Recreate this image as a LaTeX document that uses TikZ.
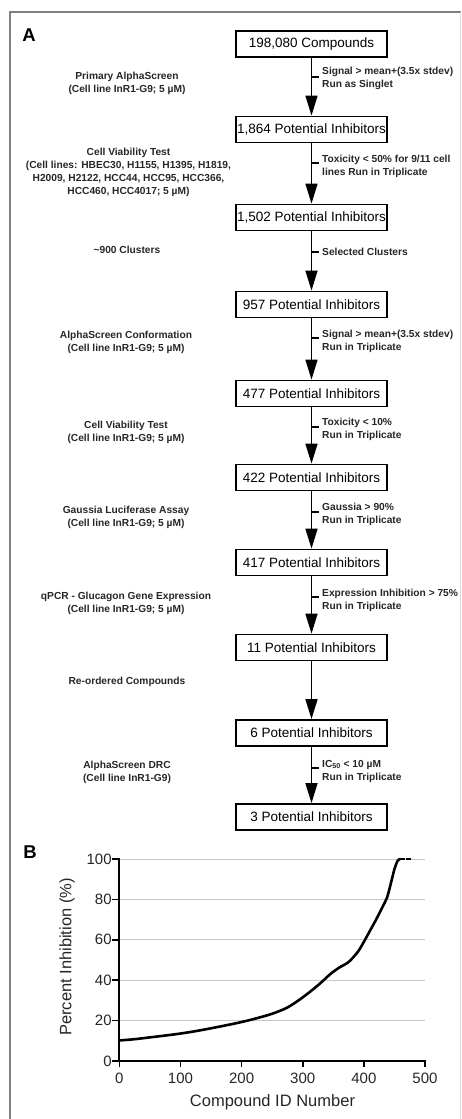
\documentclass[tikz,border=0pt]{standalone}
\usepackage{fontspec}
\setmainfont{Liberation Sans}
\usetikzlibrary{arrows.meta}
\begin{document}
\begin{tikzpicture}[x=1pt,y=-1pt,
  box/.style={draw, line width=1.8pt, minimum width=151pt, minimum height=26pt, inner sep=0pt, font=\fontsize{13.5}{16}\selectfont},
  flow/.style={line width=1.6pt, -{Triangle[width=12pt,length=20pt]}},
  lab/.style={font=\bfseries\fontsize{10.2}{13}\selectfont, align=center, inner sep=0pt, text=black!85},
  crit/.style={font=\bfseries\fontsize{10.2}{13}\selectfont, align=left, anchor=west, inner sep=0pt, text=black!85},
  crittick/.style={line width=1.3pt},
  panel/.style={font=\bfseries\fontsize{18.5}{20}\selectfont, inner sep=0pt},
  gridline/.style={draw=black!22, line width=0.9pt},
  axisline/.style={line width=1.9pt, line cap=rect},
  ticklab/.style={font=\fontsize{15}{17}\selectfont, inner sep=0pt, text=black!85},
  axtitle/.style={font=\fontsize{16.5}{18}\selectfont, inner sep=0pt, text=black!85},
  framel/.style={draw=black!50, line width=1.5pt}
]
\useasboundingbox (0,0) rectangle (461,1119);
% frame
\draw[framel] (10,1119) -- (10,12) -- (461,12);
\draw[draw=black!15, line width=1pt] (460,12) -- (460,1119);

\node[panel] (pA) at (29,35) {A};
\node[panel] (pB) at (30,852) {B};

% boxes
\node[box] (b1) at (311.5,44) {198,080 Compounds};
\node[box] (b2) at (311.5,129.5) {1,864 Potential Inhibitors};
\node[box] (b3) at (311.5,217.5) {1,502 Potential Inhibitors};
\node[box] (b4) at (311.5,304.5) {957 Potential Inhibitors};
\node[box] (b5) at (311.5,393.5) {477 Potential Inhibitors};
\node[box] (b6) at (311.5,477.5) {422 Potential Inhibitors};
\node[box] (b7) at (311.5,562.5) {417 Potential Inhibitors};
\node[box] (b8) at (311.5,647.5) {11 Potential Inhibitors};
\node[box] (b9) at (311.5,733) {6 Potential Inhibitors};
\node[box] (b10) at (311.5,817) {3 Potential Inhibitors};

\draw[flow] (b1) -- (b2);
\draw[flow] (b2) -- (b3);
\draw[flow] (b3) -- (b4);
\draw[flow] (b4) -- (b5);
\draw[flow] (b5) -- (b6);
\draw[flow] (b6) -- (b7);
\draw[flow] (b7) -- (b8);
\draw[flow] (b8) -- (b9);
\draw[flow] (b9) -- (b10);

% ticks on arrows
\foreach \i/\y in {1/77,2/163,3/252,4/338,5/427,6/512,7/597,9/768}{
  \coordinate (ts\i) at (311.5,\y);
  \coordinate (te\i) at (318.5,\y);
  \draw[crittick] (ts\i) -- (te\i);
}

% criteria labels
\node[crit] (c1) at (322,78.5) {Signal > mean+(3.5x stdev)\\Run as Singlet};
\node[crit] (c2) at (322,166) {Toxicity < 50\% for 9/11 cell\\lines Run in Triplicate};
\node[crit] (c3) at (322,252) {Selected Clusters};
\node[crit] (c4) at (322,341.5) {Signal > mean+(3.5x stdev)\\Run in Triplicate};
\node[crit] (c5) at (322,429.5) {Toxicity < 10\%\\Run in Triplicate};
\node[crit] (c6) at (322,514.5) {Gaussia > 90\%\\Run in Triplicate};
\node[crit] (c7) at (322,600) {Expression Inhibition > 75\%\\Run in Triplicate};
\node[crit] (c9) at (322,771) {IC\textsubscript{50} < 10 µM\\Run in Triplicate};

% step labels
\node[lab] (s1) at (127,83.5) {Primary AlphaScreen\\(Cell line InR1-G9; 5 µM)};
\node[lab] (s2) at (128.5,172.7) {Cell Viability Test\\(Cell lines: HBEC30, H1155, H1395, H1819,\\H2009, H2122, HCC44, HCC95, HCC366,\\HCC460, HCC4017; 5 µM)};
\node[lab] (s3) at (127,250) {\textasciitilde900 Clusters};
\node[lab] (s4) at (126,342) {AlphaScreen Conformation\\(Cell line InR1-G9; 5 µM)};
\node[lab] (s5) at (126,432.5) {Cell Viability Test\\(Cell line InR1-G9; 5 µM)};
\node[lab] (s6) at (126,517.5) {Gaussia Luciferase Assay\\(Cell line InR1-G9; 5 µM)};
\node[lab] (s7) at (126,603) {qPCR - Glucagon Gene Expression\\(Cell line InR1-G9; 5 µM)};
\node[lab] (s8) at (127,682) {Re-ordered Compounds};
\node[lab] (s9) at (127,772.5) {AlphaScreen DRC\\(Cell line InR1-G9)};

% plot B
\begin{scope}[shift={(119.3pt,-1061pt)}, x=0.6114pt, y=2.02pt]
  \foreach \v in {20,40,60,80,100}{
    \draw[gridline] (0,\v) -- (500,\v);
  }
  \foreach \v in {0,20,40,60,80,100}{
    \draw[line width=1.6pt] (0,\v) -- ([xshift=-7pt]0,\v);
    \node[ticklab, anchor=east] (yl\v) at ([xshift=-7.5pt]0,\v) {\v};
  }
  \foreach \x in {0,100,200,300,400,500}{
    \draw[line width=1.6pt] (\x,0) -- ([yshift=-6pt]\x,0);
    \node[ticklab] (xl\x) at ([yshift=-17pt]\x,0) {\x};
  }
  \draw[axisline] (0,100) -- (0,0) -- (500,0);
  \draw[line width=2.6pt, line cap=round, line join=round] plot[smooth, tension=0.5] coordinates {
    (1,10.2) (25,10.8) (50,11.7) (75,12.6) (100,13.6) (125,14.8) (150,16.2) (175,17.7)
    (200,19.3) (225,21.2) (250,23.4) (275,26.5) (300,31.5) (325,37.5) (345,43) (360,46.3)
    (375,49) (390,54) (400,59) (410,64.5) (420,70) (430,76) (438,81) (445,89) (450,95)
    (455,99) (459,100)};
  \draw[line width=2.6pt, dash pattern=on 5pt off 1pt] (459,100) -- (478,100);
\end{scope}
\node[axtitle] (xt) at (272.5,1102) {Compound ID Number};
\node[axtitle, rotate=90] (yt) at (67,957) {Percent Inhibition (\%)};
\end{tikzpicture}
\end{document}
